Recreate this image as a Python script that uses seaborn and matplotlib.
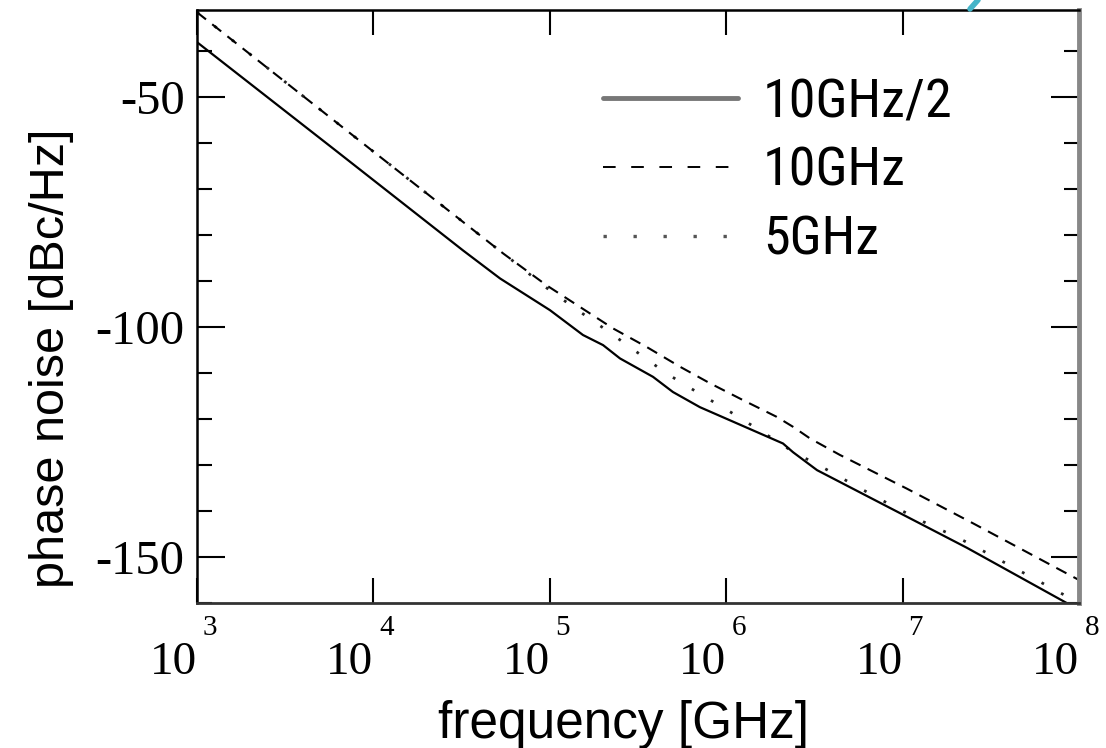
import numpy as np
import pandas as pd
import seaborn as sns
import matplotlib.pyplot as plt
import matplotlib.transforms as mtransforms
from matplotlib.lines import Line2D
from matplotlib.ticker import MultipleLocator, NullLocator, FixedLocator
from matplotlib.font_manager import FontProperties, fontManager

# values: log10(frequency) and phase noise [dBc/Hz]
half_exp = [3.0, 3.774, 4.508, 4.718, 5.001, 5.188, 5.302, 5.398, 5.585, 5.698,
            5.851, 6.322, 6.379, 6.515, 7.365, 7.93, 8.0]
half_db = [-38.0, -61.2, -83.3, -89.4, -96.3, -101.7, -103.9, -106.8, -110.8, -114.1,
           -117.4, -125.3, -127.2, -131.1, -148.0, -160.0, -161.3]

ten_exp = [3.0, 3.98, 4.737, 4.982, 5.171, 5.36, 5.549, 5.738, 5.908, 6.097,
           6.286, 6.38, 6.475, 6.645, 7.023, 7.401, 8.0]
ten_db = [-31.5, -61.2, -84.0, -90.9, -95.6, -100.3, -104.3, -108.6, -112.2, -115.9,
          -119.5, -121.7, -124.2, -127.8, -135.1, -142.7, -155.0]

five_exp = [3.0, 3.98, 4.737, 4.822, 4.973, 5.143, 5.323, 5.493, 5.663, 5.842,
            6.022, 6.201, 6.379, 6.566, 6.747, 6.934, 7.116, 7.308, 7.405, 8.0]
five_db = [-31.5, -61.2, -84.0, -86.5, -91.2, -95.9, -100.7, -105.4, -110.1, -114.3,
           -118.4, -122.7, -127.1, -130.9, -134.8, -138.7, -142.3, -145.7, -147.6, -160.0]

labels = ['10GHz/2', '10GHz', '5GHz']
decades = [3, 4, 5, 6, 7, 8]
ymajor = [-50, -100, -150]
ymajor_txt = ['-50', '-100', '-150']

sns.set_theme(style='ticks')
plt.rcParams['font.family'] = ['Liberation Sans', 'DejaVu Sans']
for k in ['text.color', 'axes.labelcolor', 'xtick.color', 'ytick.color']:
    plt.rcParams[k] = 'black'
serif = ['Liberation Serif', 'DejaVu Serif']

# legend font: upright narrow face if there is one, else plain Liberation Sans a bit smaller
narrow = [f for f in fontManager.ttflist
          if f.name in ('Liberation Sans Narrow', 'Roboto Condensed')
          and f.style == 'normal' and f.weight in (400, 'normal', 'regular')]
if narrow:
    leg_font = FontProperties(fname=narrow[0].fname, size=39)
    leg_em = 39 * 100 / 72
    leg_space = 0.33
else:
    leg_font = FontProperties(family=['Liberation Sans', 'DejaVu Sans'], size=33)
    leg_em = 33 * 100 / 72
    leg_space = 0.55

fig = plt.figure(figsize=(11.06, 7.48), dpi=100)
ax = fig.add_axes([197/1106, 1-603/748, 882/1106, 593/748])

d1 = pd.DataFrame({'f': np.power(10.0, half_exp), 'pn': half_db})
d2 = pd.DataFrame({'f': np.power(10.0, ten_exp), 'pn': ten_db})
d3 = pd.DataFrame({'f': np.power(10.0, five_exp), 'pn': five_db})

sns.lineplot(data=d3, x='f', y='pn', ax=ax, color='#222222', lw=2.0,
             linestyle=(0, (1.0, 7.0)), sort=False, legend=False)
sns.lineplot(data=d2, x='f', y='pn', ax=ax, color='black', lw=1.5,
             linestyle=(0, (5.5, 3.8)), sort=False, legend=False)
sns.lineplot(data=d1, x='f', y='pn', ax=ax, color='black', lw=1.6, sort=False, legend=False)

ax.set_xscale('log')
ax.set_xlim(1e3, 1e8)
ax.set_ylim(-160, -31)

# x ticks: "10" under the tick and the exponent as a separate small text
ax.xaxis.set_major_locator(FixedLocator([10.0**d for d in decades]))
ax.xaxis.set_minor_locator(NullLocator())
ax.set_xticklabels(['10'] * len(decades))
for t in ax.get_xticklabels():
    t.set_fontfamily(serif)
    t.set_fontsize(34)
    t.set_ha('right')
    t.set_color('black')
ax.tick_params(axis='x', which='major', direction='in', length=18, width=1.5,
               top=True, pad=28, color='black')
off = mtransforms.ScaledTranslation(0.055, -0.32, fig.dpi_scale_trans)
tr = mtransforms.blended_transform_factory(ax.transData, ax.transAxes) + off
for d in decades:
    ax.text(10.0**d, 0, str(d), transform=tr, ha='left', va='baseline',
            fontsize=21, family=serif, color='black')

# y ticks
ax.set_yticks(ymajor)
ax.set_yticklabels(ymajor_txt, fontsize=35, family=serif, color='black')
ax.yaxis.set_minor_locator(MultipleLocator(10))
ax.tick_params(axis='y', which='major', direction='in', length=20, width=1.5,
               right=True, pad=9, color='black')
ax.tick_params(axis='y', which='minor', direction='in', length=11, width=1.5,
               right=True, color='black')
for tk in ax.yaxis.get_major_ticks() + ax.yaxis.get_minor_ticks():
    tk.tick2line.set_color('#777777')

for s in ['left', 'top']:
    ax.spines[s].set_color('black')
    ax.spines[s].set_linewidth(1.8)
ax.spines['bottom'].set_color('#333333')
ax.spines['bottom'].set_linewidth(2)
ax.spines['right'].set_color('#888888')
ax.spines['right'].set_linewidth(3.5)

ax.set_xlabel('frequency [GHz]', fontsize=37, color='black')
ax.xaxis.set_label_coords(0.4836, -0.163)
ax.set_ylabel('phase noise [dBc/Hz]', fontsize=35, color='black')
ax.yaxis.set_label_coords(-0.14, 0.412)

handles = [
    Line2D([], [], color='#777777', lw=3.5),
    Line2D([], [], color='black', lw=1.4, linestyle=(0, (6.5, 8))),
    Line2D([], [], color='#555555', lw=2.4, linestyle=(0, (1.0, 8.0))),
]
leg = ax.legend(handles, labels, loc='upper left', bbox_to_anchor=(0.46, 0.887),
                frameon=False, borderpad=0, borderaxespad=0,
                handlelength=135 / leg_em, handletextpad=25 / leg_em,
                labelspacing=leg_space, prop=leg_font, labelcolor='black')

fig.add_artist(Line2D([970/1106, 978/1106], [1-9/748, 1.0], color='#45b4c8', lw=4,
                      transform=fig.transFigure))

fig.savefig('out.png', dpi=100, facecolor='white')
